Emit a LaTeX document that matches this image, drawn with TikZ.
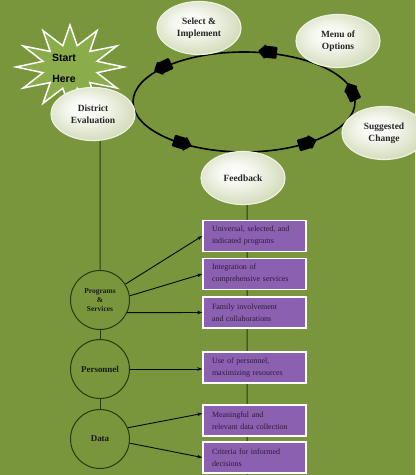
\documentclass[tikz,border=0pt]{standalone}
\usepackage{fontspec}
\setmainfont{Liberation Serif}
\newfontfamily\starfont{Liberation Sans}
\usetikzlibrary{arrows.meta,calc,shapes.geometric}

\definecolor{bg}{RGB}{121,150,60}
\definecolor{dkgreen}{RGB}{38,60,14}
\definecolor{boxpurple}{RGB}{140,96,176}
\definecolor{boxtext}{RGB}{45,25,60}
\definecolor{elledge}{RGB}{160,176,120}
\definecolor{ellmid}{RGB}{208,217,182}
\definecolor{ellhi}{RGB}{246,248,240}
\definecolor{ellline}{RGB}{238,242,228}
\definecolor{starfill}{RGB}{138,172,74}

\pgfdeclareradialshading{ellshade}{\pgfpoint{-6bp}{6bp}}{color(0bp)=(white); color(10bp)=(ellhi); color(30bp)=(ellmid); color(50bp)=(elledge)}

\tikzset{
  ellnode/.style={ellipse, minimum width=84bp, minimum height=53bp, inner sep=0pt,
    shade, shading=ellshade, draw=ellline, line width=1.2bp, align=center,
    text=black!85, font=\bfseries\fontsize{9.5}{12}\selectfont},
  boxnode/.style={draw=white, line width=1.5bp, fill=boxpurple, minimum width=103bp,
    minimum height=31bp, text width=85bp, align=left, inner sep=0pt, text=boxtext,
    font=\fontsize{8}{12}\selectfont},
  circnode/.style={circle, draw=dkgreen, line width=1bp, minimum size=59bp, inner sep=0pt,
    align=center, text=black!90, font=\bfseries\fontsize{9}{10}\selectfont},
  gline/.style={draw=dkgreen, line width=1bp},
  garrow/.style={draw=black!85!dkgreen, line width=0.9bp, -{Stealth[length=5bp,width=3.5bp]}},
  loopline/.style={draw=black, line width=1.6bp},
  blockarrow/.style={fill=black, rounded corners=1bp},
}

\begin{document}
\begin{tikzpicture}[x=1bp, y=-1bp]
\useasboundingbox (0,0) rectangle (415,475);
\fill[bg] (0,0) rectangle (415,475);

% loop
\coordinate (loopc) at (244,102);
\draw[loopline] (loopc) ellipse [x radius=111bp, y radius=50bp];
\foreach \px/\py/\ang in {268/52/174, 163/67/205, 182/143/-17, 307/143/17, 352/92/115}{
  \begin{scope}[shift={(\px,\py)}, rotate=\ang]
    \fill[blockarrow] (-9,-6) -- (3,-6) -- (3,-7.5) -- (10,0) -- (3,7.5) -- (3,6) -- (-9,6) -- cycle;
  \end{scope}
}

% feedback and its vertical line (behind boxes)
\node[ellnode] (fb) at (243,178) {Feedback};
\coordinate (fbend) at (247,476);
\draw[gline] ([xshift=4bp]fb.south) -- (fbend);

% start star
\coordinate (sc) at (70,67);
\filldraw[fill=starfill, draw=white, line width=1.5bp, line join=miter]
  ($(sc)+(0:54 and 42)$)
  \foreach \k in {1,...,11}{ -- ($(sc)+(\k*30-15:28 and 22)$) -- ($(sc)+(\k*30:54 and 42)$) }
  -- ($(sc)+(345:28 and 22)$) -- cycle;
\node[font=\starfont\bfseries\fontsize{10.5}{21}\selectfont, align=center, text=black] (starttxt) at (64,68.5) {Start\\Here};

% ellipses
\node[ellnode] (dist) at (93,114) {District\\Evaluation};
\node[ellnode] (sel) at (199,28) {Select \&\\Implement};
\node[ellnode] (menu) at (338,41) {Menu of\\Options};
\node[ellnode] (sugg) at (384,133) {Suggested\\Change};

% left column
\node[circnode, font=\bfseries\fontsize{7.5}{9}\selectfont] (prog) at (100,300) {Programs\\\&\\Services};
\node[circnode] (pers) at (100,369) {Personnel};
\node[circnode] (data) at (100,439) {Data};
\draw[gline] ([xshift=7bp]dist.south) -- (prog.north);
\draw[gline] (prog.south) -- (pers.north);
\draw[gline] (pers.south) -- (data.north);

% boxes
\node[boxnode] (b1) at (254.5,236) {Universal, selected, and\\indicated programs};
\node[boxnode] (b2) at (254.5,274) {Integration of\\comprehensive services};
\node[boxnode] (b3) at (254.5,312.5) {Family involvement\\and collaborations};
\node[boxnode] (b4) at (254.5,367.5) {Use of personnel,\\maximizing resources};
\node[boxnode] (b5) at (254.5,420.5) {Meaningful and\\relevant data collection};
\node[boxnode] (b6) at (254.5,457.5) {Criteria for informed\\decisions};

% arrows
\draw[garrow] (prog.32) -- (b1.west);
\draw[garrow] (prog.8) -- (b2.west);
\draw[garrow] (prog.-25) -- (b3.west);
\draw[garrow] (pers.east) -- (pers.east -| b4.west);
\draw[garrow] (data.22) -- ([yshift=7bp]b5.west);
\draw[garrow] (data.-8) -- (b6.west);
\end{tikzpicture}
\end{document}
